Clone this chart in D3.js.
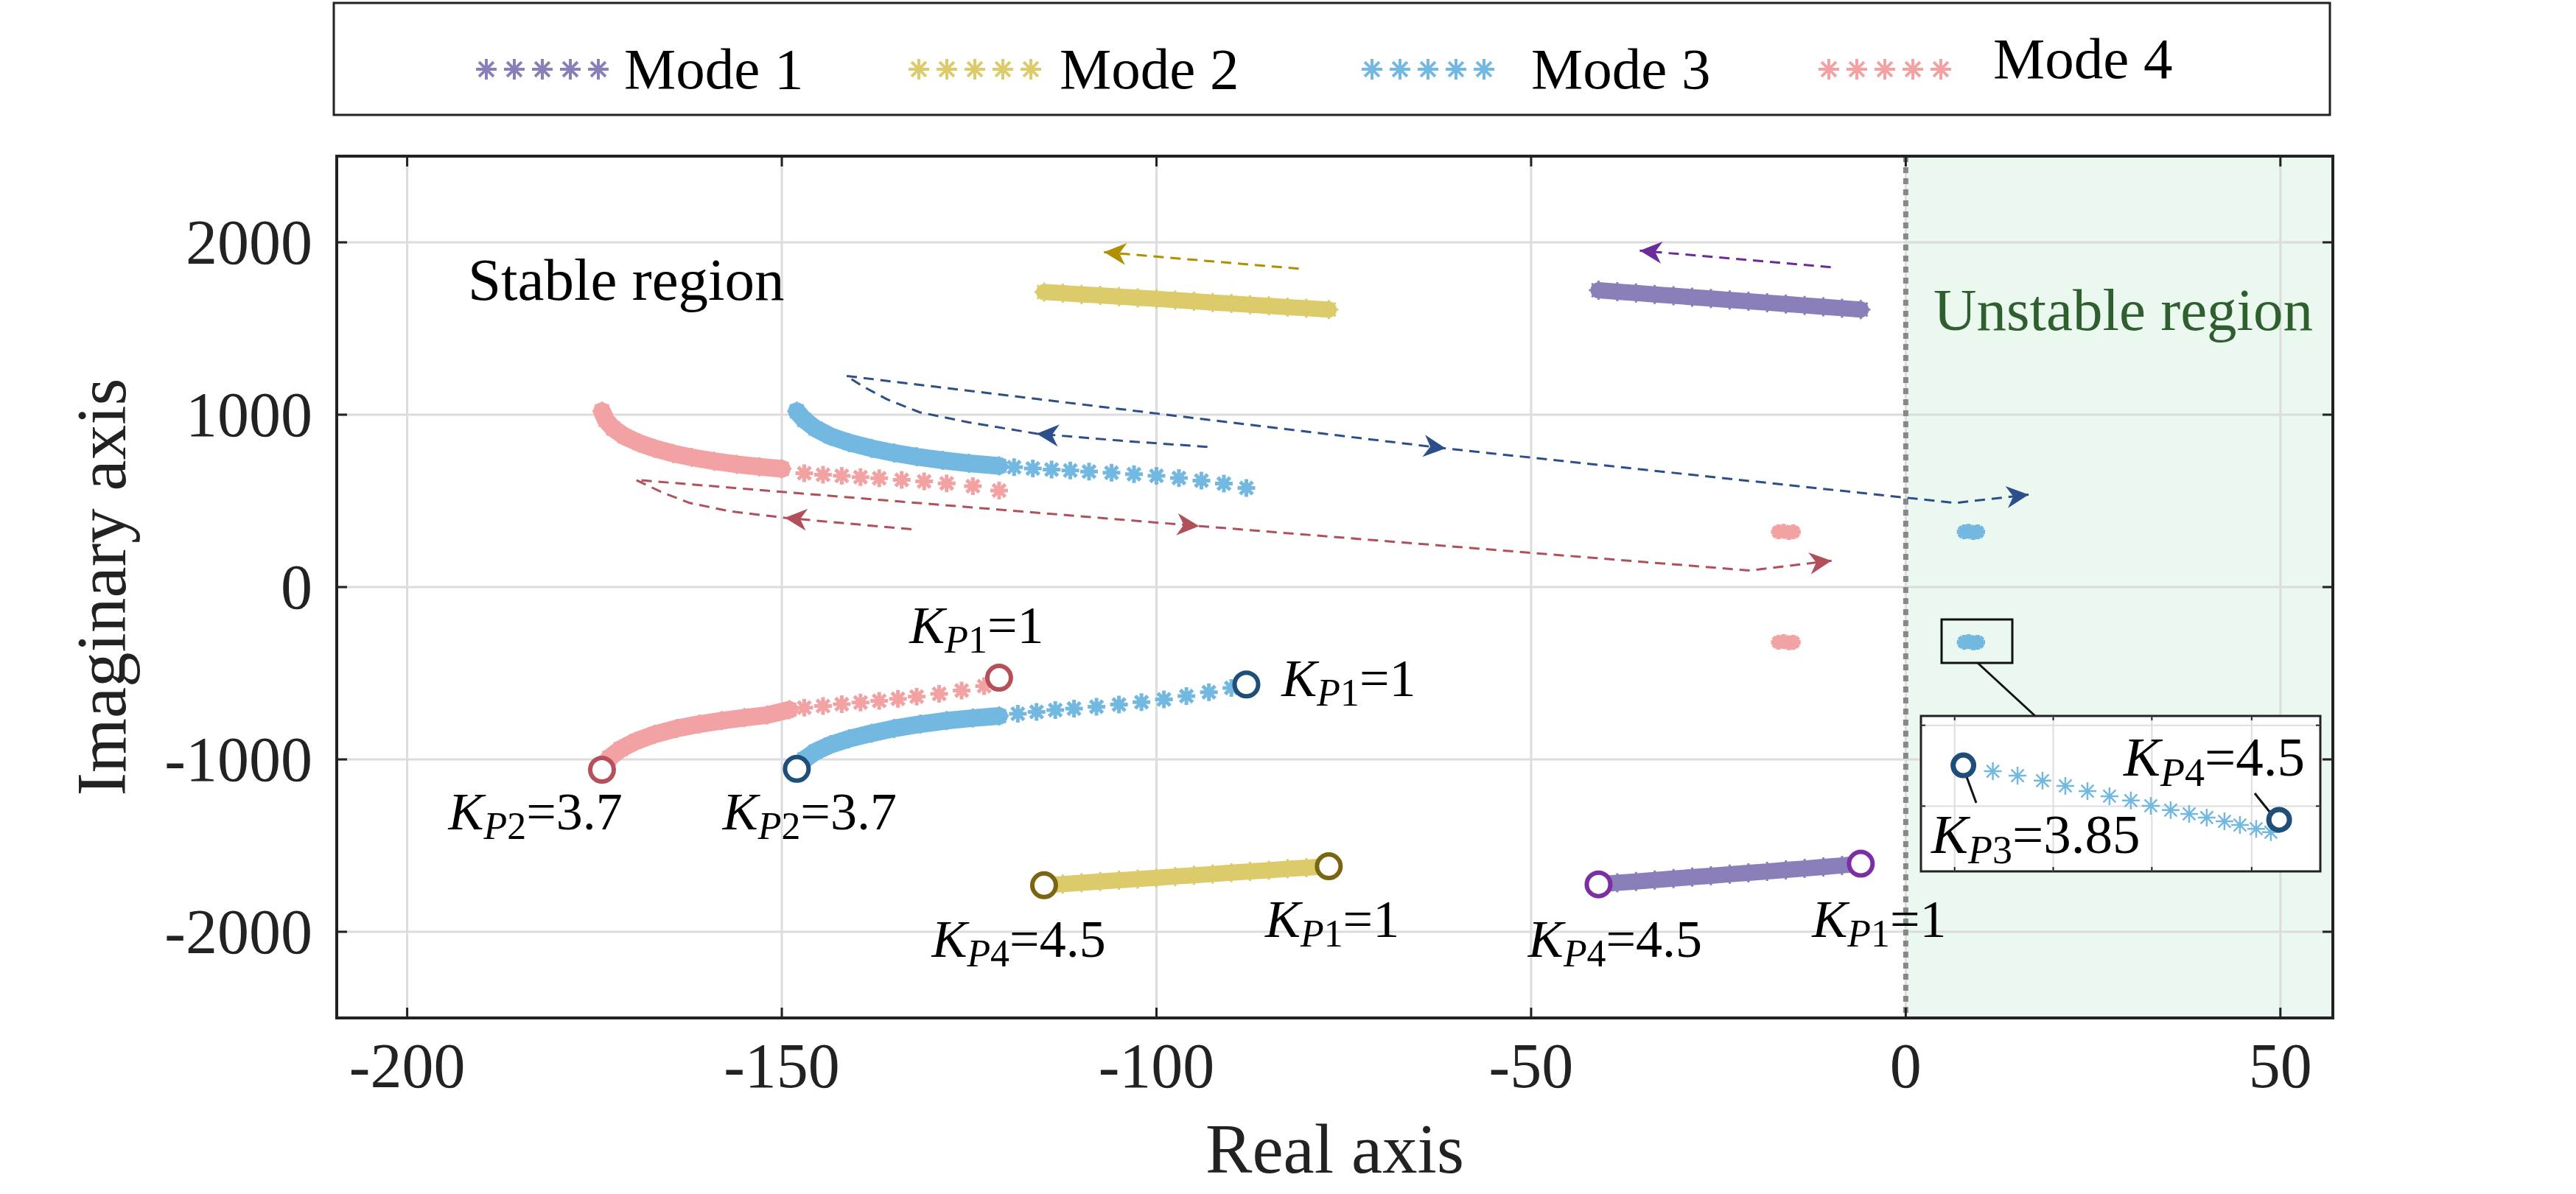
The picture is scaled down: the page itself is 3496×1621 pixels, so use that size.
<!DOCTYPE html><html><head><meta charset="utf-8">
<script src="https://d3js.org/d3.v7.min.js"></script>
<style>body{margin:0;background:#fff}svg{display:block}text{font-family:"Liberation Serif","Times New Roman",serif}</style>
</head><body><svg id="c" width="3496" height="1621"></svg><script>
const xTicks=[-200,-150,-100,-50,0,50];
const yTicks=[-2000,-1000,0,1000,2000];
const modeNames=["Mode 1","Mode 2","Mode 3","Mode 4"];
const modeColors=["#8a7fb8","#dccb6a","#72b8e0","#f2a2a2"];
const circleColors=["#7a2fa5","#7a6510","#1f4e79","#b5505a"];
const mode1Upper=[[-41,1722],[-38.5,1714],[-36,1706],[-33.5,1698],[-31,1690],[-28.5,1682],[-26,1674],[-23.5,1666],[-21,1658],[-18.5,1650],[-16,1642],[-13.5,1634],[-11,1626],[-8.5,1618],[-6,1610]];
const mode1Lower=[[-41,-1725],[-38.5,-1716],[-36,-1708],[-33.5,-1700],[-31,-1691],[-28.5,-1683],[-26,-1675],[-23.5,-1666],[-21,-1658],[-18.5,-1650],[-16,-1641],[-13.5,-1633],[-11,-1624],[-8.5,-1615],[-6,-1605]];
const mode2Upper=[[-115,1712],[-112.5,1705],[-110,1698],[-107.5,1692],[-105,1685],[-102.5,1678],[-100,1672],[-97.5,1665],[-95,1658],[-92.5,1651],[-90,1645],[-87.5,1638],[-85,1631],[-82.5,1624],[-80,1618],[-77,1610]];
const mode2Lower=[[-115,-1730],[-112.5,-1723],[-110,-1716],[-107.5,-1708],[-105,-1701],[-102.5,-1694],[-100,-1687],[-97.5,-1679],[-95,-1672],[-92.5,-1665],[-90,-1657],[-87.5,-1650],[-85,-1643],[-82.5,-1635],[-80,-1628],[-77,-1620]];
const mode4UpperBand=[[-174,1020],[-173.5,970],[-172.5,920],[-171,875],[-169,835],[-167,805],[-164.5,775],[-162,752],[-159,730],[-156,712],[-153,698],[-150,686]];
const mode4UpperDots=[[-147,660],[-144.5,652],[-142,645],[-139.5,638],[-137,631],[-134,622],[-131,613],[-128,602],[-124.5,585],[-121,560]];
const mode3UpperBand=[[-148,1020],[-147,970],[-145.5,920],[-143.5,875],[-141,838],[-138,805],[-135,778],[-132,756],[-128.5,735],[-125,718],[-121,703]];
const mode3UpperDots=[[-119,695],[-116.5,688],[-114,682],[-111.5,676],[-109,670],[-106,663],[-103,655],[-100,645],[-97,633],[-94,618],[-91,600],[-88,575]];
const mode4LowerBand=[[-174,-1050],[-173,-990],[-171.5,-940],[-169.5,-895],[-167,-855],[-164,-820],[-161,-795],[-158,-775],[-155,-758],[-152,-743],[-149,-712]];
const mode4LowerDots=[[-147,-700],[-144.5,-690],[-142,-680],[-139.5,-670],[-137,-660],[-134.5,-648],[-132,-636],[-129,-620],[-126,-600],[-123,-575]];
const mode3LowerBand=[[-148,-1050],[-147,-1000],[-145.5,-955],[-143.5,-915],[-141,-880],[-138,-848],[-135,-820],[-131.5,-795],[-128,-775],[-124.5,-760],[-121,-748]];
const mode3LowerDots=[[-118.5,-735],[-116,-724],[-113.5,-714],[-111,-705],[-108,-694],[-105,-682],[-102,-668],[-99,-652],[-96,-633],[-93,-610],[-90,-585]];
const mode4Clusters=[[-17,320],[-16.3,324],[-15.6,316],[-15,320],[-17,-320],[-16.3,-316],[-15.6,-324],[-15,-320]];
const mode3Clusters=[[7.8,320],[8.4,324],[9.0,316],[9.6,320],[7.8,-320],[8.4,-316],[9.0,-324],[9.6,-320]];
const endCircles=[[0,-41,-1725],[0,-6,-1605],[1,-115,-1730],[1,-77,-1620],[2,-148,-1055],[2,-88,-565],[3,-174,-1060],[3,-121,-526]];
const bluePath=[[-93.2,813],[-105,850],[-116,890],[-125,955],[-131.6,1014],[-136,1090],[-139,1160],[-141.4,1225],[-61.4,804],[6.6,488],[16.4,536]];
const redPath=[[-132.7,335],[-149.6,402],[-157,440],[-162.3,488],[-166,550],[-169.5,622],[-94.3,354],[-20.8,96],[-9.9,153]];
const goldPath=[[-81,1847],[-107,1943]];
const purplePath=[[-10,1856],[-35.5,1952]];
const arrows=[["#2c4f8c",-116,890,-105,850],["#2c4f8c",-61.4,804,-80,902],["#2c4f8c",16.4,536,6.6,488],
 ["#b0505a",-149.6,402,-132.7,335],["#b0505a",-94.3,354,-120,445],["#b0505a",-9.9,153,-20.8,96],
 ["#b09000",-107,1943,-81,1847],["#6a2c9a",-35.5,1952,-10,1856]];
const labels=[["K","P1","=1",-124,-325,"middle"],["K","P1","=1",-83.3,-632,"start"],["K","P2","=3.7",-194.5,-1407,"start"],
 ["K","P2","=3.7",-157.9,-1407,"start"],["K","P4","=4.5",-130,-2144,"start"],["K","P1","=1",-85.5,-2029,"start"],
 ["K","P4","=4.5",-50.4,-2144,"start"],["K","P1","=1",-12.5,-2029,"start"]];
const insetStars=[[7.476,-312.8],[7.674,-314.2],[7.874,-315.8],[8.057,-317.5],[8.234,-319.2],[8.411,-320.8],[8.582,-322.2],[8.742,-323.9],[8.901,-325.3],[9.049,-326.5],[9.190,-327.7],[9.332,-328.9],[9.456,-330.1],[9.586,-331.3],[9.704,-332.4]];
const insetCircles=[[7.24,-310.9],[9.77,-328.4]];
const insetXTicks=[7.17,7.96,8.75,9.55], insetYTicks=[-298,-324];

const svg=d3.select("#c");
const L=457,R=3166,T=212,B=1382;
const x=d3.scaleLinear().domain([-209.4,57]).range([L,R]);
const y=d3.scaleLinear().domain([-2500,2500]).range([B,T]);
function star(r){const d=r*0.7071;return `M${-r},0L${r},0M0,${-r}L0,${r}M${-d},${-d}L${d},${d}M${-d},${d}L${d},${-d}`;}
svg.append("defs").append("clipPath").attr("id","pc").append("rect").attr("x",L).attr("y",T).attr("width",R-L).attr("height",B-T);
svg.append("rect").attr("x",x(0)).attr("y",T).attr("width",R-x(0)).attr("height",B-T).attr("fill","#eaf8f0");
const g=svg.append("g");
xTicks.forEach(t=>g.append("line").attr("x1",x(t)).attr("x2",x(t)).attr("y1",T).attr("y2",B).attr("stroke","#dcdcdc").attr("stroke-width",3));
yTicks.forEach(t=>g.append("line").attr("y1",y(t)).attr("y2",y(t)).attr("x1",L).attr("x2",R).attr("stroke","#dcdcdc").attr("stroke-width",3));
svg.append("line").attr("x1",x(0)).attr("x2",x(0)).attr("y1",T).attr("y2",B).attr("stroke","#888").attr("stroke-width",7).attr("stroke-dasharray","8,7");
const P=svg.append("g").attr("clip-path","url(#pc)");
const line=d3.line().x(d=>x(d[0])).y(d=>y(d[1]));
function band(data,c,w){P.append("path").attr("d",line(data)).attr("fill","none").attr("stroke",c).attr("stroke-width",w).attr("stroke-linecap","round").attr("stroke-linejoin","round");}
function stars(data,c,r,sw){P.selectAll(null).data(data).enter().append("path").attr("d",star(r)).attr("transform",d=>`translate(${x(d[0])},${y(d[1])})`).attr("stroke",c).attr("stroke-width",sw).attr("fill","none");}
[[mode1Upper,0],[mode1Lower,0],[mode2Upper,1],[mode2Lower,1]].forEach(([d,i])=>{band(d,modeColors[i],22);stars(d,modeColors[i],13,3);});
[[mode4UpperBand,mode4UpperDots,3],[mode3UpperBand,mode3UpperDots,2],[mode4LowerBand,mode4LowerDots,3],[mode3LowerBand,mode3LowerDots,2]].forEach(([b,dd,i])=>{
 band(b,modeColors[i],24);stars(b,modeColors[i],13,3);stars(dd,modeColors[i],12,5);});
stars(mode4Clusters,modeColors[3],10,6);stars(mode3Clusters,modeColors[2],10,6);
[[bluePath,"#2c4f8c"],[redPath,"#b0505a"],[goldPath,"#b09000"],[purplePath,"#6a2c9a"]].forEach(([d,c])=>{
 P.append("path").attr("d",line(d)).attr("fill","none").attr("stroke",c).attr("stroke-width",3).attr("stroke-dasharray","14,9");});
arrows.forEach(([c,tx,ty,fx,fy])=>{
 const a=Math.atan2(y(ty)-y(fy),x(tx)-x(fx))*180/Math.PI;
 P.append("path").attr("d","M0,0L-30,-15L-21,0L-30,15Z").attr("fill",c).attr("transform",`translate(${x(tx)},${y(ty)}) rotate(${a})`);});
P.selectAll(null).data(endCircles).enter().append("circle").attr("cx",d=>x(d[1])).attr("cy",d=>y(d[2])).attr("r",16).attr("fill","#fff").attr("stroke",d=>circleColors[d[0]]).attr("stroke-width",6);
function klabel(sel,k,sub,rest,px,py,anchor,fs){
 const t=sel.append("text").attr("x",px).attr("y",py).attr("text-anchor",anchor).attr("font-size",fs);
 t.append("tspan").attr("font-style","italic").text(k);
 t.append("tspan").attr("font-style","italic").attr("font-size",fs*0.72).attr("dy",fs*0.18).text(sub[0]);
 t.append("tspan").attr("font-size",fs*0.72).text(sub.slice(1));
 t.append("tspan").attr("dy",-fs*0.18).text(rest);}
labels.forEach(l=>klabel(svg,l[0],l[1],l[2],x(l[3]),y(l[4]),l[5],72));
svg.append("text").attr("x",x(-191.9)).attr("y",y(1665)).attr("font-size",81).text("Stable region");
svg.append("text").attr("x",x(3.7)).attr("y",y(1493)).attr("font-size",81).attr("fill","#2f5f2f").text("Unstable region");
const IL=2607,IR=3149,IT=972,IB=1183;
const ix=d3.scaleLinear().domain([6.9,10.1]).range([IL,IR]);
const iy=d3.scaleLinear().domain([-345,-295]).range([IB,IT]);
svg.append("rect").attr("x",2635).attr("y",841).attr("width",96).attr("height",59).attr("fill","none").attr("stroke","#111").attr("stroke-width",3);
svg.append("line").attr("x1",2684).attr("y1",900).attr("x2",2762).attr("y2",972).attr("stroke","#111").attr("stroke-width",3);
const I=svg.append("g");
I.append("rect").attr("x",IL).attr("y",IT).attr("width",IR-IL).attr("height",IB-IT).attr("fill","#fff").attr("stroke","#222").attr("stroke-width",3);
insetXTicks.forEach(t=>{I.append("line").attr("x1",ix(t)).attr("x2",ix(t)).attr("y1",IT).attr("y2",IB).attr("stroke","#ddd").attr("stroke-width",2);
 I.append("line").attr("x1",ix(t)).attr("x2",ix(t)).attr("y1",IT).attr("y2",IT+6).attr("stroke","#222").attr("stroke-width",2);
 I.append("line").attr("x1",ix(t)).attr("x2",ix(t)).attr("y1",IB-6).attr("y2",IB).attr("stroke","#222").attr("stroke-width",2);});
insetYTicks.forEach(t=>{I.append("line").attr("y1",iy(t)).attr("y2",iy(t)).attr("x1",IL).attr("x2",IR).attr("stroke","#ddd").attr("stroke-width",2);
 I.append("line").attr("y1",iy(t)).attr("y2",iy(t)).attr("x1",IL).attr("x2",IL+6).attr("stroke","#222").attr("stroke-width",2);
 I.append("line").attr("y1",iy(t)).attr("y2",iy(t)).attr("x1",IR-6).attr("x2",IR).attr("stroke","#222").attr("stroke-width",2);});
I.selectAll(null).data(insetStars).enter().append("path").attr("d",star(12)).attr("transform",d=>`translate(${ix(d[0])},${iy(d[1])})`).attr("stroke",modeColors[2]).attr("stroke-width",2.5).attr("fill","none");
I.append("line").attr("x1",2668).attr("y1",1052).attr("x2",2682).attr("y2",1090).attr("stroke","#111").attr("stroke-width",3);
I.append("line").attr("x1",3060).attr("y1",1077).attr("x2",3080).attr("y2",1102).attr("stroke","#111").attr("stroke-width",3);
I.selectAll(null).data(insetCircles).enter().append("circle").attr("cx",d=>ix(d[0])).attr("cy",d=>iy(d[1])).attr("r",14).attr("fill","#fff").attr("stroke","#1f4e79").attr("stroke-width",7);
klabel(I,"K","P4","=4.5",2882,1053,"start",75);
klabel(I,"K","P3","=3.85",2621,1158,"start",75);
svg.append("rect").attr("x",L).attr("y",T).attr("width",R-L).attr("height",B-T).attr("fill","none").attr("stroke","#222").attr("stroke-width",4);
xTicks.forEach(t=>{svg.append("line").attr("x1",x(t)).attr("x2",x(t)).attr("y1",B).attr("y2",B-14).attr("stroke","#222").attr("stroke-width",3);
 svg.append("line").attr("x1",x(t)).attr("x2",x(t)).attr("y1",T).attr("y2",T+14).attr("stroke","#222").attr("stroke-width",3);
 svg.append("text").attr("x",x(t)).attr("y",B+94).attr("text-anchor","middle").attr("font-size",86).attr("fill","#222").text(t);});
yTicks.forEach(t=>{svg.append("line").attr("y1",y(t)).attr("y2",y(t)).attr("x1",L).attr("x2",L+14).attr("stroke","#222").attr("stroke-width",3);
 svg.append("line").attr("y1",y(t)).attr("y2",y(t)).attr("x1",R).attr("x2",R-14).attr("stroke","#222").attr("stroke-width",3);
 svg.append("text").attr("x",L-33).attr("y",y(t)+29).attr("text-anchor","end").attr("font-size",86).attr("fill","#222").text(t);});
svg.append("text").attr("x",(L+R)/2).attr("y",1592).attr("text-anchor","middle").attr("font-size",95).attr("fill","#222").text("Real axis");
svg.append("text").attr("transform",`translate(170,${(T+B)/2}) rotate(-90)`).attr("text-anchor","middle").attr("font-size",95).attr("fill","#222").text("Imaginary axis");
svg.append("rect").attr("x",453).attr("y",4).attr("width",2709).attr("height",152).attr("fill","#fff").attr("stroke","#222").attr("stroke-width",3);
const legX=[[660,847,120],[1247,1438,120],[1862,2078,120],[2482,2705,106]];
modeNames.forEach((m,i)=>{const [sx,tx,ty]=legX[i];
 for(let k=0;k<5;k++) svg.append("path").attr("d",star(14)).attr("transform",`translate(${sx+k*38},94)`).attr("stroke",modeColors[i]).attr("stroke-width",4).attr("fill","none");
 svg.append("text").attr("x",tx).attr("y",ty).attr("font-size",79).text(m);});
</script></body></html>
